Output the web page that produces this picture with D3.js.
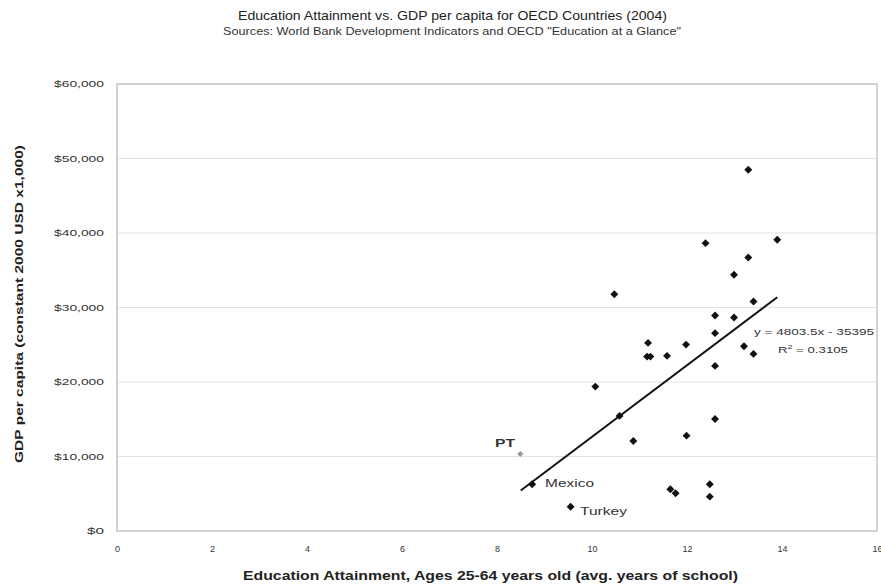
<!DOCTYPE html>
<html><head><meta charset="utf-8">
<script src="https://cdn.jsdelivr.net/npm/d3@7"></script>
<style>body{margin:0;background:#fff;}svg{display:block;font-family:"Liberation Sans",Arial,sans-serif;}</style>
</head><body><svg id="c" width="881" height="588"></svg>
<script>
const eduYears = [13.29,12.39,13.90,13.29,12.99,10.47,13.40,12.59,12.99,12.59,11.18,11.98,13.20,11.16,11.23,11.58,13.40,12.59,10.07,10.58,12.59,11.99,10.87,8.74,11.65,11.76,12.48,12.48,9.55];
const gdpPerCapita = [48490,38640,39090,36710,34390,31790,30800,28920,28650,26560,25250,25020,24810,23410,23410,23510,23770,22160,19380,15450,15040,12800,12090,6270,5600,5060,6270,4610,3260];
const ptPoint = [8.49, 10340];
const labelNames = ["PT","Mexico","Turkey"];
const trendSlope = 4803.5, trendIntercept = -35395, trendR2 = 0.3105;
const trendRange = [8.5, 13.9];
const xTicks = [0,2,4,6,8,10,12,14,16];
const yTicks = [0,10000,20000,30000,40000,50000,60000];

const svg = d3.select("#c");
const L=117,R=877,T=84,B=531;
const x = d3.scaleLinear().domain([0,16]).range([L,R]);
const y = d3.scaleLinear().domain([0,60000]).range([B,T]);
// stretch a text to a given width (reference font is wider than available fonts)
function fit(sel, w){ sel.attr("textLength", w).attr("lengthAdjust","spacingAndGlyphs"); return sel; }

fit(svg.append("text").attr("x",452.5).attr("y",20).attr("text-anchor","middle").attr("font-size",13.5).attr("fill","#222")
  .text("Education Attainment vs. GDP per capita for OECD Countries (2004)"), 429);
fit(svg.append("text").attr("x",452).attr("y",35).attr("text-anchor","middle").attr("font-size",10.5).attr("fill","#333")
  .text('Sources: World Bank Development Indicators and OECD "Education at a Glance"'), 458);

// gridlines
svg.append("g").selectAll("line").data(yTicks.slice(1,-1)).join("line")
  .attr("x1",L).attr("x2",R).attr("y1",d=>y(d)).attr("y2",d=>y(d)).attr("stroke","#e2e2e2").attr("stroke-width",1);
svg.append("rect").attr("x",L).attr("y",T).attr("width",R-L).attr("height",B-T).attr("fill","none").attr("stroke","#c4c4c4").attr("stroke-width",1.5);

const yAxis = d3.axisLeft(y).tickValues(yTicks).tickSize(0).tickPadding(13).tickFormat(d=>"$"+d3.format(",")(d));
const gy = svg.append("g").attr("transform",`translate(${L},0)`).call(yAxis);
gy.select(".domain").remove();
gy.selectAll("text").attr("font-size",8.5).attr("fill","#333").attr("font-family","Liberation Sans, Arial")
  .each(function(d){ fit(d3.select(this), d===0 ? 17 : 50); });

const xAxis = d3.axisBottom(x).tickValues(xTicks).tickSize(0).tickPadding(15);
const gx = svg.append("g").attr("transform",`translate(0,${B})`).call(xAxis);
gx.select(".domain").remove();
gx.selectAll("text").attr("font-size",8.5).attr("fill","#333").attr("font-family","Liberation Sans, Arial")
  .each(function(d){ fit(d3.select(this), d>=10 ? 10 : 5); });

fit(svg.append("text").attr("transform","translate(23,304) rotate(-90)").attr("text-anchor","middle").attr("font-size",11.5).attr("font-weight","bold").attr("fill","#222")
  .text("GDP per capita (constant 2000 USD x1,000)"), 318);
fit(svg.append("text").attr("x",490.5).attr("y",580).attr("text-anchor","middle").attr("font-size",12).attr("font-weight","bold").attr("fill","#222")
  .text("Education Attainment, Ages 25-64 years old (avg. years of school)"), 495);

// trendline
svg.append("line").attr("x1",x(trendRange[0])).attr("y1",y(trendSlope*trendRange[0]+trendIntercept))
  .attr("x2",x(trendRange[1])).attr("y2",y(trendSlope*trendRange[1]+trendIntercept)).attr("stroke","#111").attr("stroke-width",2);

const diamond = d3.symbol().type(d3.symbolDiamond2 || d3.symbolDiamond).size(40);
svg.append("g").selectAll("path").data(eduYears.map((d,i)=>[d,gdpPerCapita[i]])).join("path")
  .attr("d",diamond).attr("transform",d=>`translate(${x(d[0])},${y(d[1])})`).attr("fill","#111");
svg.append("path").attr("d",d3.symbol().type(d3.symbolDiamond2 || d3.symbolDiamond).size(24)).attr("transform",`translate(${x(ptPoint[0])},${y(ptPoint[1])})`).attr("fill","#999");

fit(svg.append("text").attr("x",495).attr("y",447).attr("font-size",11).attr("font-weight","bold").attr("fill","#333").text(labelNames[0]), 20);
fit(svg.append("text").attr("x",545).attr("y",487).attr("font-size",11).attr("fill","#333").text(labelNames[1]), 49);
fit(svg.append("text").attr("x",580).attr("y",515).attr("font-size",11).attr("fill","#333").text(labelNames[2]), 47);

fit(svg.append("text").attr("x",754).attr("y",335).attr("font-size",9).attr("fill","#333").text(`y = ${trendSlope}x - ${-trendIntercept}`), 120);
const r2 = svg.append("text").attr("x",778).attr("y",353).attr("font-size",9).attr("fill","#333");
r2.append("tspan").text("R");
r2.append("tspan").attr("dy",-4).attr("font-size",6).text("2");
r2.append("tspan").attr("dy",4).text(` = ${trendR2}`);
fit(r2, 70);
</script></body></html>
